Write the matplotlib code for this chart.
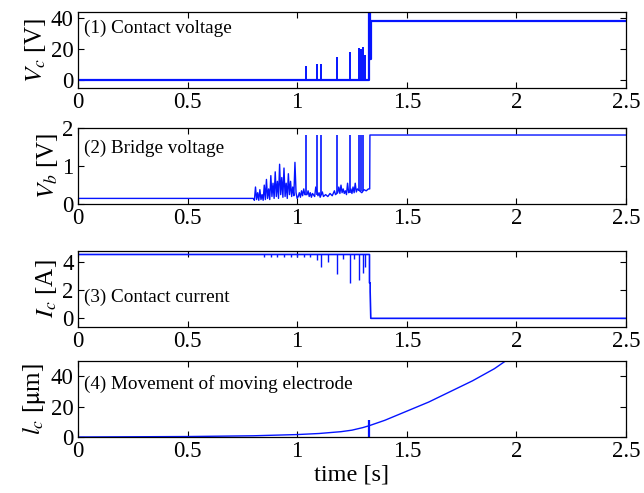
import matplotlib
matplotlib.use("Agg")
from matplotlib import pyplot as plt

plt.rcParams['font.family'] = ['Liberation Serif', 'DejaVu Serif']
plt.rcParams['mathtext.fontset'] = 'stix'

# (1) contact voltage [V]
vc_t = [0, 1.328, 1.328, 1.331, 1.331, 1.336, 1.336, 2.5]
vc_v = [0, 0, 45, 45, 14, 14, 38, 38]
vc_spike_t = [0.86, 0.88, 0.90, 0.92, 0.94, 0.96, 0.98, 1.04, 1.09, 1.11, 1.18, 1.24, 1.28, 1.29, 1.30, 1.31]
vc_spike_h = [1, 1, 1, 1, 1, 1, 1, 9.5, 10.5, 10.5, 15, 18, 21, 20, 21.5, 16.5]

# (2) bridge voltage [V]
vb_t = [0, 0.800, 0.805, 0.810, 0.815, 0.820, 0.825, 0.830, 0.835, 0.840, 0.845,
        0.850, 0.855, 0.860, 0.865, 0.870, 0.875, 0.880, 0.885, 0.890, 0.895,
        0.900, 0.905, 0.910, 0.915, 0.920, 0.925, 0.930, 0.935, 0.940, 0.945,
        0.950, 0.955, 0.960, 0.965, 0.970, 0.975, 0.980, 0.985, 0.990, 0.995,
        1.000, 1.005, 1.010, 1.015, 1.020, 1.025, 1.030, 1.035, 1.045, 1.050,
        1.055, 1.060, 1.065, 1.070, 1.080, 1.085, 1.095, 1.100, 1.105, 1.115,
        1.120, 1.130, 1.140, 1.150, 1.160, 1.170, 1.175, 1.185, 1.190, 1.195,
        1.200, 1.205, 1.210, 1.215, 1.220, 1.225, 1.230, 1.235, 1.245, 1.250,
        1.255, 1.260, 1.265, 1.270, 1.275, 1.285, 1.295, 1.305, 1.315, 1.325,
        1.331, 1.332, 2.5]
vb_v = [0.15, 0.15, 0.10, 0.45, 0.12, 0.30, 0.10, 0.38, 0.12, 0.25, 0.10,
        0.50, 0.12, 0.65, 0.15, 0.40, 0.12, 0.75, 0.20, 0.55, 0.15,
        0.85, 0.20, 0.60, 0.15, 1.05, 0.25, 0.70, 0.18, 0.95, 0.20,
        0.55, 0.15, 0.80, 0.25, 0.60, 0.20, 0.45, 0.22, 1.10, 0.30,
        0.15, 0.20, 0.30, 0.18, 0.35, 0.22, 0.40, 0.25, 0.25, 0.35,
        0.20, 0.30, 0.18, 0.28, 0.20, 0.45, 0.22, 0.30, 0.18, 0.32,
        0.20, 0.25, 0.20, 0.28, 0.22, 0.35, 0.25, 0.30, 0.45, 0.28,
        0.50, 0.30, 0.40, 0.28, 0.35, 0.25, 0.55, 0.30, 0.40, 0.28,
        0.45, 0.30, 0.55, 0.32, 0.40, 0.35, 0.30, 0.38, 0.35, 0.40,
        0.40, 1.82, 1.82]
vb_spike_t = [1.04, 1.09, 1.11, 1.18, 1.24, 1.28, 1.29, 1.30]
vb_spike_base = [0.25, 0.25, 0.25, 0.30, 0.30, 0.35, 0.35, 0.35]
vb_spike_h = [1.82, 1.82, 1.82, 1.82, 1.82, 1.82, 1.82, 1.82]

# (3) contact current [A]
ic_t = [0, 1.330, 1.330, 1.333, 1.333, 1.336, 2.5]
ic_v = [4.5, 4.5, 2.5, 2.5, 1.9, 0, 0]
ic_dip_t = [0.85, 0.88, 0.91, 0.94, 0.97, 1.00, 1.03, 1.06, 1.09, 1.11, 1.14, 1.18, 1.21, 1.24, 1.26, 1.28, 1.30, 1.31]
ic_dip_v = [4.35, 4.35, 4.3, 4.35, 4.3, 4.35, 4.3, 4.3, 4.1, 3.6, 4.0, 3.1, 4.2, 2.5, 4.2, 2.7, 3.2, 3.6]

# (4) movement of moving electrode [um]
lc_t = [0, 0.5, 0.8, 1.0, 1.1, 1.2, 1.25, 1.3, 1.33, 1.4, 1.5, 1.6, 1.7, 1.8, 1.9, 1.95, 2.0]
lc_v = [0, 0.3, 0.8, 1.6, 2.3, 3.5, 4.5, 6.2, 7.5, 11, 17, 23, 30, 37, 45, 50, 53]
lc_spike_t = [1.33]
lc_spike_lo = [0]
lc_spike_hi = [11]

xticks = [0, 0.5, 1, 1.5, 2, 2.5]
xticklabels = ['0', '0.5', '1', '1.5', '2', '2.5']

fig = plt.figure(figsize=(6.44, 4.93), dpi=100)
left, width, height = 0.121, 0.851, 0.154
bottoms = [0.8215, 0.586, 0.337, 0.1136]
axs = [fig.add_axes([left, b, width, height]) for b in bottoms]

blue = '#0514ff'
note_size = 13.8

ax = axs[0]
ax.plot(vc_t, vc_v, color=blue, lw=1.6)
ax.vlines(vc_spike_t, 0, vc_spike_h, color=blue, lw=1.4)
ax.set_ylim(-5, 44)
ax.set_yticks([0, 20, 40])
ax.set_ylabel(r'$V_c$ [V]')
ax.text(0.011, 0.79, '(1) Contact voltage', transform=ax.transAxes, va='center', ha='left', fontsize=note_size)

ax = axs[1]
ax.plot(vb_t, vb_v, color=blue, lw=1.0)
ax.vlines(vb_spike_t, vb_spike_base, vb_spike_h, color=blue, lw=1.2)
ax.set_ylim(0, 2)
ax.set_yticks([0, 1, 2])
ax.set_ylabel(r'$V_b$ [V]')
ax.text(0.011, 0.74, '(2) Bridge voltage', transform=ax.transAxes, va='center', ha='left', fontsize=note_size)

ax = axs[2]
ax.plot(ic_t, ic_v, color=blue, lw=1.2)
ax.vlines(ic_dip_t, ic_dip_v, 4.5, color=blue, lw=1.0)
ax.set_ylim(-0.6, 4.75)
ax.set_yticks([0, 2, 4])
ax.set_ylabel(r'$I_c$ [A]')
ax.text(0.011, 0.395, '(3) Contact current', transform=ax.transAxes, va='center', ha='left', fontsize=note_size)

ax = axs[3]
ax.plot(lc_t, lc_v, color=blue, lw=1.0)
ax.vlines(lc_spike_t, lc_spike_lo, lc_spike_hi, color=blue, lw=1.6)
ax.set_ylim(0, 50)
ax.set_yticks([0, 20, 40])
ax.set_ylabel(r'$l_c$ [$\mathrm{\mu}$m]')
ax.set_xlabel('time [s]', fontsize=17.5, labelpad=2)
ax.text(0.011, 0.70, '(4) Movement of moving electrode', transform=ax.transAxes, va='center', ha='left', fontsize=note_size)

for ax in axs:
    ax.set_xlim(0, 2.5)
    ax.set_xticks(xticks)
    ax.set_xticklabels(xticklabels)
    ax.tick_params(direction='in', top=True, right=True, length=4, labelsize=16.5, pad=3)
    ax.yaxis.label.set_size(18)
    ax.yaxis.labelpad = 2
    for s in ax.spines.values():
        s.set_linewidth(0.9)

fig.align_ylabels(axs)
fig.savefig('out.png', dpi=100)
